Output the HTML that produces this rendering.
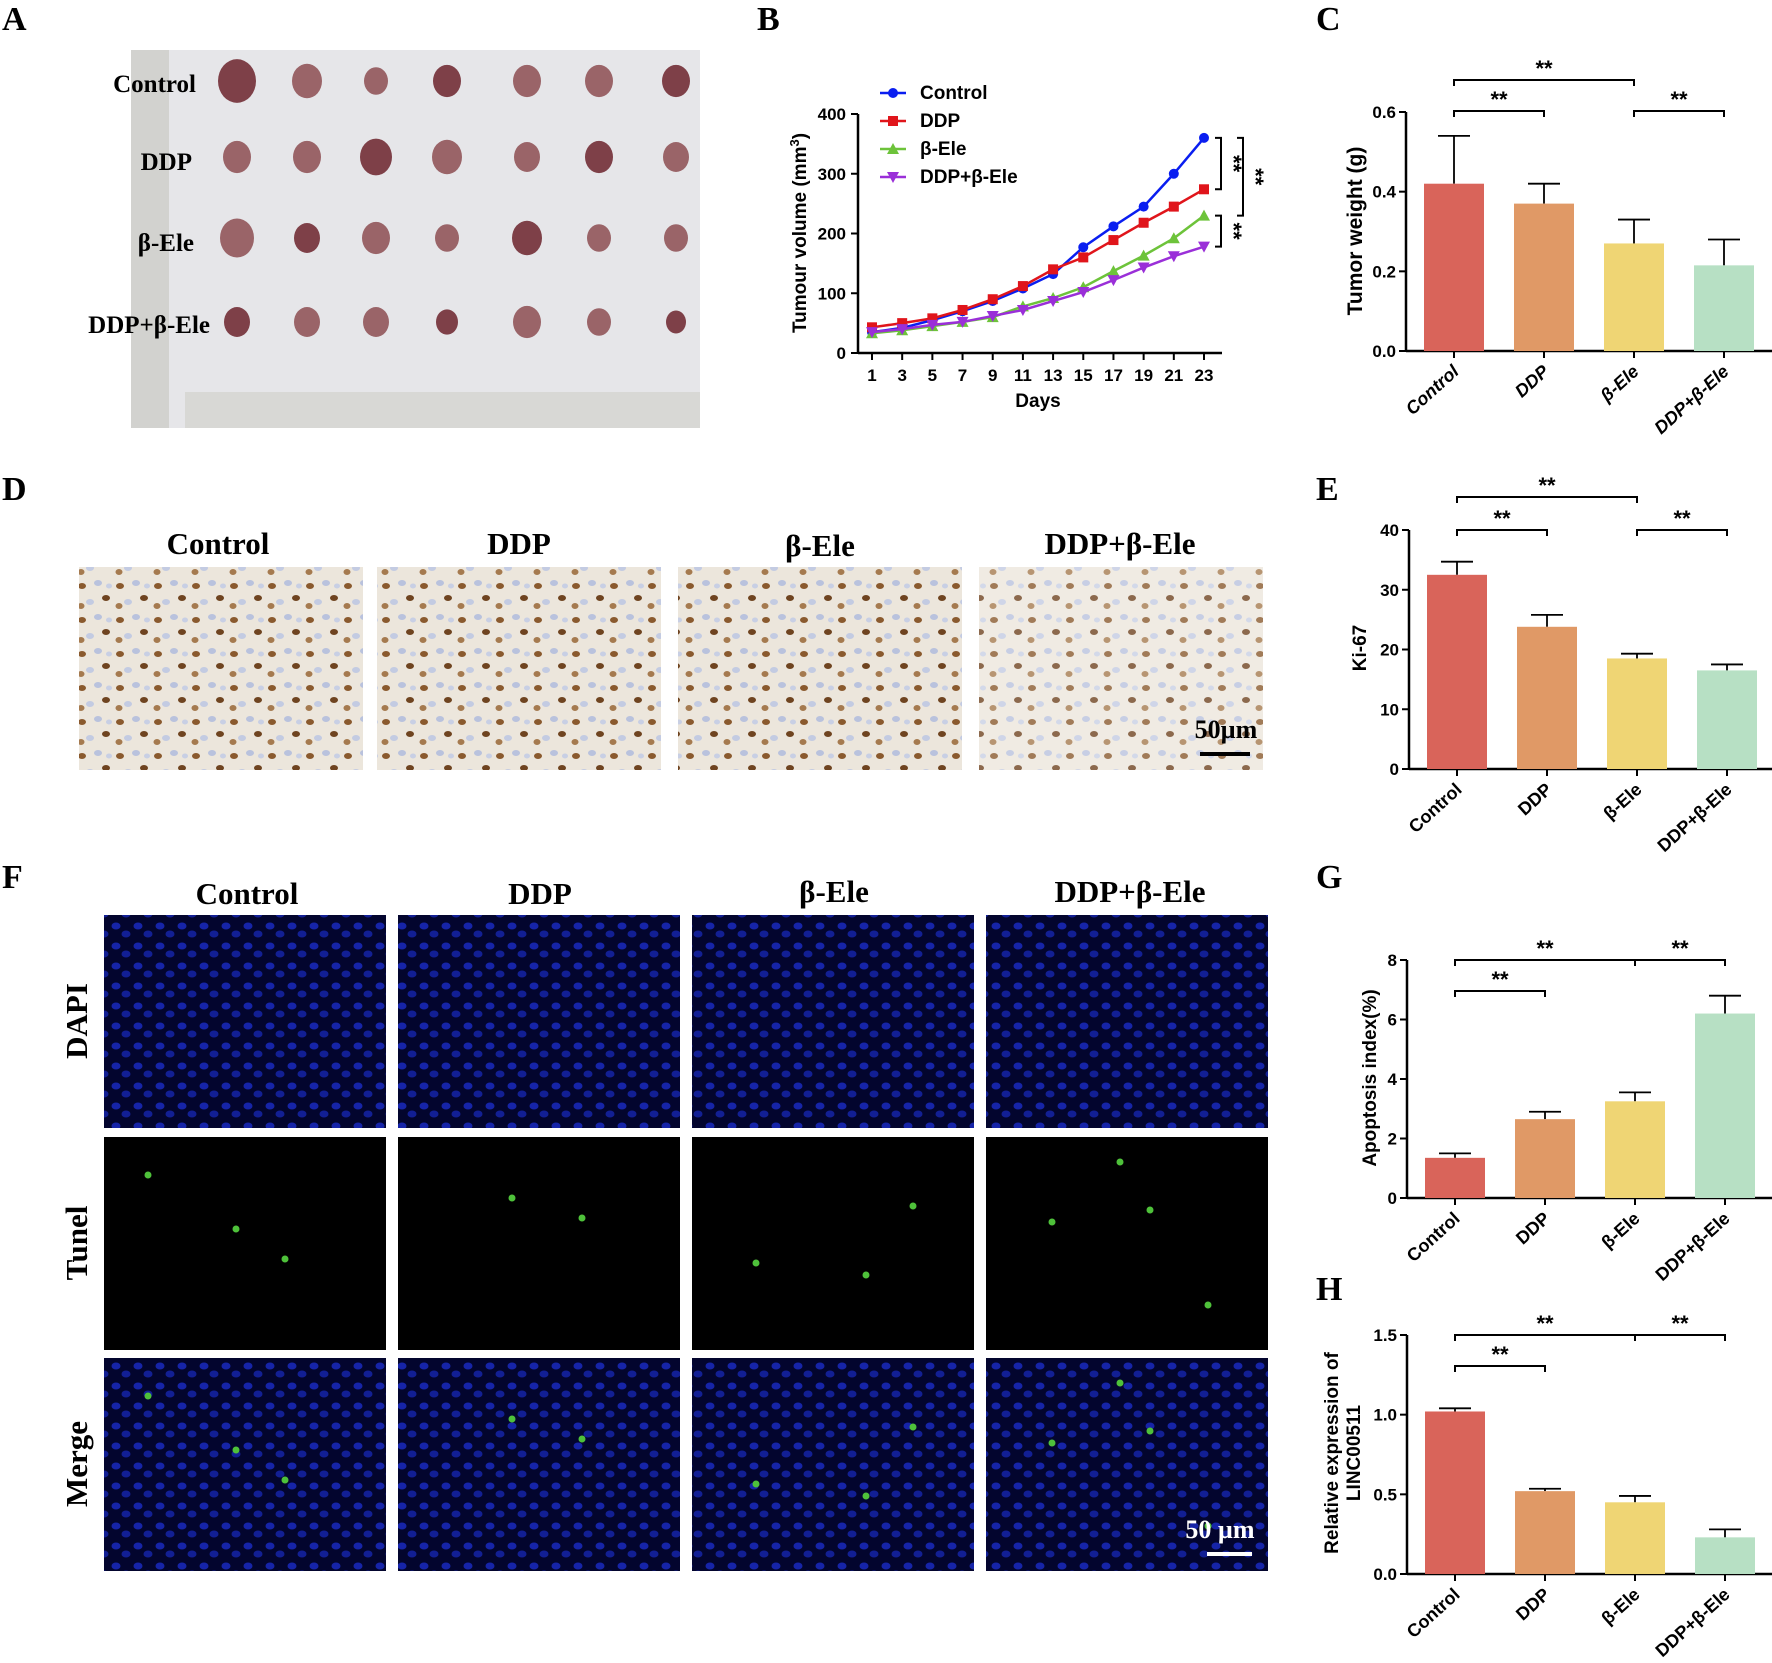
<!DOCTYPE html>
<html><head><meta charset="utf-8"><style>
html,body{margin:0;padding:0;background:#fff;}
svg{display:block;}
.lt{font-family:"Liberation Serif",serif;font-weight:bold;}
.ss{font-family:"Liberation Sans",sans-serif;font-weight:bold;}
</style></head><body>
<svg id="fig" width="1772" height="1663" viewBox="0 0 1772 1663" xmlns="http://www.w3.org/2000/svg">
<defs>
<pattern id="ihc" width="38" height="34" patternUnits="userSpaceOnUse">
<rect width="38" height="34" fill="#ece6dc"/>
<ellipse cx="6" cy="8" rx="4" ry="3" fill="#8a5a2e"/>
<ellipse cx="22" cy="5" rx="4" ry="3" fill="#b9c2dd"/>
<ellipse cx="30" cy="20" rx="4" ry="3" fill="#6f4420"/>
<ellipse cx="14" cy="24" rx="4" ry="3" fill="#c3cbe2"/>
<ellipse cx="33" cy="8" rx="3" ry="2.5" fill="#c8cfe4"/>
<ellipse cx="5" cy="28" rx="3.5" ry="3" fill="#a57a4f"/>
</pattern>
<pattern id="dapi" width="22" height="20" patternUnits="userSpaceOnUse">
<rect width="22" height="20" fill="#03052e"/>
<ellipse cx="6" cy="6" rx="4.5" ry="3.5" fill="#1624a8"/>
<ellipse cx="16" cy="14" rx="4.5" ry="3.5" fill="#121f94"/>
</pattern>
</defs>
<g class="lt" font-size="34" fill="#000">
<text x="2" y="30">A</text><text x="757" y="30">B</text><text x="1316" y="30">C</text>
<text x="2" y="500">D</text><text x="1316" y="500">E</text>
<text x="2" y="888">F</text><text x="1316" y="888">G</text><text x="1316" y="1300">H</text>
</g>
<g>
<rect x="131" y="50" width="569" height="378" fill="#e6e6e9"/>
<rect x="131" y="50" width="38" height="378" fill="#d2d2cf"/>
<rect x="185" y="392" width="515" height="36" fill="#d8d8d5"/>
<g id="tumours"></g>
<g class="lt" font-size="25" fill="#000">
<text x="196" y="92" text-anchor="end">Control</text>
<text x="192" y="170" text-anchor="end">DDP</text>
<text x="194" y="251" text-anchor="end">β-Ele</text>
<text x="210" y="333" text-anchor="end">DDP+β-Ele</text>
</g>
</g>
<g id="charts"></g>
<g>
<g class="lt" font-size="31" text-anchor="middle">
<text x="218" y="554">Control</text><text x="519" y="554">DDP</text><text x="820" y="556">β-Ele</text><text x="1120" y="554">DDP+β-Ele</text>
</g>
<rect x="79" y="567" width="284" height="203" fill="url(#ihc)"/>
<rect x="377" y="567" width="284" height="203" fill="url(#ihc)"/>
<rect x="678" y="567" width="284" height="203" fill="url(#ihc)"/>
<rect x="979" y="567" width="284" height="203" fill="url(#ihc)" opacity="0.8"/>
<text class="lt" x="1226" y="738" font-size="26" text-anchor="middle">50µm</text>
<rect x="1200" y="752" width="50" height="4" fill="#000"/>
</g>
<g>
<g class="lt" font-size="31" text-anchor="middle">
<text x="247" y="904">Control</text><text x="540" y="904">DDP</text><text x="834" y="902">β-Ele</text><text x="1130" y="902">DDP+β-Ele</text>
</g>
<g class="lt" font-size="31" text-anchor="middle">
<text transform="translate(87,1021) rotate(-90)">DAPI</text>
<text transform="translate(87,1243) rotate(-90)">Tunel</text>
<text transform="translate(87,1464) rotate(-90)">Merge</text>
</g>
<g id="fimgs"></g>
<text class="lt" x="1220" y="1538" font-size="26" text-anchor="middle" fill="#fff">50 µm</text>
<rect x="1207" y="1552" width="45" height="4" fill="#fff"/>
</g>
</svg>
<script>
// ===== Panel B data =====
const bDays = [1,3,5,7,9,11,13,15,17,19,21,23];
const bControl = [35,42,55,70,87,108,132,177,212,245,300,360];
const bDDP = [43,50,58,72,90,112,140,160,189,218,245,274];
const bBeta = [33,38,45,52,60,78,92,110,137,163,192,230];
const bCombo = [35,40,47,52,62,72,87,102,122,143,162,178];
const bSeriesNames = ["Control","DDP","β-Ele","DDP+β-Ele"];
const bYTicks = [0,100,200,300,400];
// ===== Bar panels data =====
const groups = ["Control","DDP","β-Ele","DDP+β-Ele"];
const cValues = [0.42,0.37,0.27,0.215];
const cErrors = [0.12,0.05,0.06,0.065];
const cTicks = ["0.0","0.2","0.4","0.6"];
const eValues = [32.5,23.8,18.5,16.5];
const eErrors = [2.2,2.0,0.8,1.0];
const eTicks = ["0","10","20","30","40"];
const gValues = [1.35,2.65,3.25,6.2];
const gErrors = [0.15,0.25,0.3,0.6];
const gTicks = ["0","2","4","6","8"];
const hValues = [1.02,0.52,0.45,0.23];
const hErrors = [0.02,0.015,0.04,0.05];
const hTicks = ["0.0","0.5","1.0","1.5"];

const NS="http://www.w3.org/2000/svg";
function mk(tag, attrs, parent, txt){
  const e=document.createElementNS(NS,tag);
  for(const k in attrs) e.setAttribute(k,attrs[k]);
  if(txt!==undefined) e.textContent=txt;
  parent.appendChild(e); return e;
}
const charts=document.getElementById('charts');

const tg=document.getElementById('tumours');
const tx=[237,307,376,447,527,599,676], ty=[81,157,238,322];
const tr=[[19,15,12,14,14,14,14],[14,14,16,15,13,14,13],[17,13,14,12,15,12,12],[13,13,13,11,14,12,10]];
ty.forEach((y,r)=>tx.forEach((x,c)=>{
  const t=mk('ellipse',{cx:x,cy:y,rx:tr[r][c],ry:tr[r][c]*1.15,fill:(r+c)%3?'#9a6468':'#7e4048'},tg);
  
  
}));

const fg=document.getElementById('fimgs');
const fx=[104,398,692,986], fy=[915,1137,1358];
const dots=[[[148,1175],[285,1259],[236,1229]],[[512,1198],[582,1218]],[[913,1206],[756,1263],[866,1275]],[[1120,1162],[1208,1305],[1052,1222],[1150,1210]]];
fy.forEach((y,r)=>fx.forEach((x,c)=>{
  const im=mk('rect',{x:x,y:y,width:282,height:213,fill:r==1?'#000':'url(#dapi)'},fg);
  
  
  if(r>0) dots[c].forEach(d=>{ mk('circle',{cx:d[0],cy:d[1]+(r==2?221:0),r:3.5,fill:'#4ec13a'},fg); });
}));

(function(){
  const g=mk('g',{},charts);
  
  
  const x0=872,x1=1204,y0=353,y1=114;
  const X=d=>x0+(d-1)/(22)*(x1-x0);
  const Y=v=>y0-(v/400)*(y0-y1);
  mk('line',{x1:858,y1:Y(0),x2:858,y2:Y(400),stroke:'#000','stroke-width':2.5},g);
  mk('line',{x1:858,y1:y0,x2:1222,y2:y0,stroke:'#000','stroke-width':2.5},g);
  bYTicks.forEach(t=>{
    mk('line',{x1:851,y1:Y(t),x2:858,y2:Y(t),stroke:'#000','stroke-width':2},g);
    mk('text',{x:846,y:Y(t)+6,'text-anchor':'end','font-size':17,class:'ss'},g,t);
  });
  bDays.forEach(d=>{
    mk('line',{x1:X(d),y1:y0,x2:X(d),y2:y0+7,stroke:'#000','stroke-width':2},g);
    mk('text',{x:X(d),y:y0+28,'text-anchor':'middle','font-size':17,class:'ss'},g,d);
  });
  mk('text',{x:1038,y:407,'text-anchor':'middle','font-size':19,class:'ss'},g,'Days');
  const yl=mk('text',{transform:'translate(806,233) rotate(-90)','text-anchor':'middle','font-size':19,class:'ss'},g);
  yl.innerHTML='Tumour volume (mm<tspan dy="-7" font-size="13">3</tspan><tspan dy="7">)</tspan>';
  const series=[bControl,bDDP,bBeta,bCombo], cols=['#0a1ef0','#e0151b','#6dc33a','#9a2fd8'];
  series.forEach((s,i)=>{
    const pts=s.map((v,j)=>X(bDays[j])+','+Y(v)).join(' ');
    const pl=mk('polyline',{points:pts,fill:'none',stroke:cols[i],'stroke-width':2.5},g);
    
    
    s.forEach((v,j)=>marker(g,X(bDays[j]),Y(v),i,cols[i]));
    const ly=93+i*28;
    mk('line',{x1:880,y1:ly,x2:906,y2:ly,stroke:cols[i],'stroke-width':2.5},g);
    marker(g,893,ly,i,cols[i]);
    const lt=mk('text',{x:920,y:ly+6,'font-size':19,class:'ss'},g,bSeriesNames[i]);
    
    
  });
  function marker(g,x,y,i,c){
    if(i==0) mk('circle',{cx:x,cy:y,r:5,fill:c},g);
    else if(i==1) mk('rect',{x:x-5,y:y-5,width:10,height:10,fill:c},g);
    else if(i==2) mk('polygon',{points:`${x},${y-6} ${x-6},${y+5} ${x+6},${y+5}`,fill:c},g);
    else mk('polygon',{points:`${x},${y+6} ${x-6},${y-5} ${x+6},${y-5}`,fill:c},g);
  }
  const br=(x,ya,yb,tx)=>{
    mk('polyline',{points:`${x-6},${Y(ya)} ${x},${Y(ya)} ${x},${Y(yb)} ${x-6},${Y(yb)}`,fill:'none',stroke:'#000','stroke-width':2},g);
    mk('text',{transform:`translate(${tx},${(Y(ya)+Y(yb))/2}) rotate(90)`,'text-anchor':'middle','font-size':22,class:'ss'},g,'**');
  };
  br(1221,360,274,1226); br(1243,360,230,1248); br(1221,230,178,1226);
})();

const barCols=['#d9645a','#e09966','#efd574','#b7e0c4'];
function barChart(name,vals,errs,ticks,ymax,ax,y0,ytop,italic,ylab,brackets,lsize){
  const g=mk('g',{},charts);
  
  
  const cx=[ax+48,ax+138,ax+228,ax+318];
  const Y=v=>y0-(v/ymax)*(y0-ytop);
  mk('line',{x1:ax,y1:y0,x2:ax,y2:ytop,stroke:'#000','stroke-width':2.5},g);
  mk('line',{x1:ax,y1:y0,x2:1772,y2:y0,stroke:'#000','stroke-width':2.5},g);
  ticks.forEach(t=>{
    const v=parseFloat(t);
    mk('line',{x1:ax-7,y1:Y(v),x2:ax,y2:Y(v),stroke:'#000','stroke-width':2},g);
    mk('text',{x:ax-10,y:Y(v)+6,'text-anchor':'end','font-size':17,class:'ss'},g,t);
  });
  vals.forEach((v,i)=>{
    const top=Y(v+errs[i]);
    mk('line',{x1:cx[i],y1:Y(v),x2:cx[i],y2:top,stroke:'#000','stroke-width':1.8},g);
    mk('line',{x1:cx[i]-16,y1:top,x2:cx[i]+16,y2:top,stroke:'#000','stroke-width':1.8},g);
    const b=mk('rect',{x:cx[i]-30,y:Y(v),width:60,height:y0-Y(v),fill:barCols[i]},g);
    
    
    mk('line',{x1:cx[i],y1:y0,x2:cx[i],y2:y0+7,stroke:'#000','stroke-width':2},g);
    mk('text',{transform:`translate(${cx[i]+6},${y0+22}) rotate(-42)`,'text-anchor':'end','font-size':18,class:'ss','font-style':italic?'italic':'normal'},g,groups[i]);
  });
  ylab.forEach(l=>{
    mk('text',{transform:`translate(${l[0]},${l[1]}) rotate(-90)`,'text-anchor':'middle','font-size':lsize,class:'ss'},g,l[2]);
  });
  brackets.forEach(b=>{
    const a=cx[b[0]],c=cx[b[1]];
    mk('polyline',{points:`${a},${b[2]+6} ${a},${b[2]} ${c},${b[2]} ${c},${b[2]+6}`,fill:'none',stroke:'#000','stroke-width':2},g);
    mk('text',{x:(a+c)/2,y:b[2]-4,'text-anchor':'middle','font-size':22,class:'ss'},g,'**');
  });
}
barChart('tumor-weight-chart',cValues,cErrors,cTicks,0.6,1406,351,112,true,[[1362,231,'Tumor weight (g)']],[[0,2,80],[0,1,111],[2,3,111]],21);
barChart('ki67-chart',eValues,eErrors,eTicks,40,1409,769,530,false,[[1366,648,'Ki-67']],[[0,2,497],[0,1,530],[2,3,530]],19);
barChart('apoptosis-chart',gValues,gErrors,gTicks,8,1407,1198,960,false,[[1376,1078,'Apoptosis index(%)']],[[0,2,960],[2,3,960],[0,1,991]],19);
barChart('linc00511-chart',hValues,hErrors,hTicks,1.5,1407,1574,1335,false,[[1338,1453,'Relative expression of'],[1360,1453,'LINC00511']],[[0,2,1335],[2,3,1335],[0,1,1366]],19);
</script>
</body></html>
